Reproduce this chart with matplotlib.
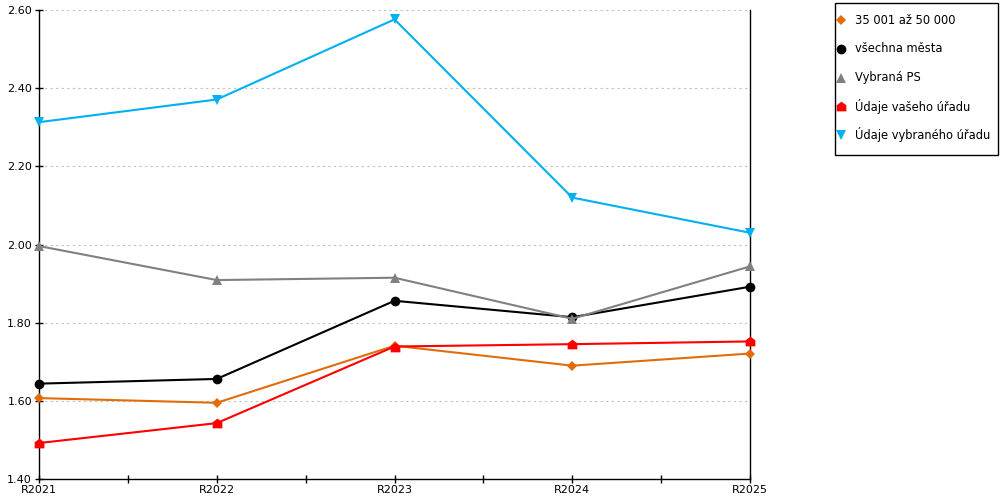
import matplotlib.pyplot as plt
from matplotlib.lines import Line2D
from matplotlib.patches import Rectangle
from matplotlib.path import Path
import numpy as np

years = ["R2021", "R2022", "R2023", "R2024", "R2025"]

mesta_35_50 = [1.607, 1.595, 1.741, 1.690, 1.721]
vsechna_mesta = [1.644, 1.656, 1.856, 1.814, 1.892]
vybrana_ps = [1.996, 1.909, 1.915, 1.810, 1.944]
vas_urad = [1.492, 1.543, 1.739, 1.745, 1.752]
vybrany_urad = [2.313, 2.371, 2.576, 2.120, 2.030]

labels = ["35 001 až 50 000", "všechna města", "Vybraná PS",
          "Údaje vašeho úřadu", "Údaje vybraného úřadu"]

# house shaped marker for the red series
house = Path([(-1, -1), (1, -1), (1, 0.25), (0, 1), (-1, 0.25), (-1, -1)],
             [Path.MOVETO, Path.LINETO, Path.LINETO, Path.LINETO, Path.LINETO, Path.CLOSEPOLY])

styles = [
    (mesta_35_50, "#E36C0A", "D", 5.5),
    (vsechna_mesta, "#000000", "o", 7),
    (vybrana_ps, "#808080", "^", 7.5),
    (vas_urad, "#FF0000", house, 7),
    (vybrany_urad, "#00B0F0", "v", 7.5),
]

plt.rcParams['font.family'] = ['DejaVu Sans']
plt.rcParams['font.size'] = 8

fig = plt.figure(figsize=(10, 5), dpi=100)
ax = fig.add_axes([0.039, 0.042, 0.711, 0.938])

x = np.arange(len(years))
for vals, col, mk, ms in styles:
    ax.plot(x, vals, color=col, lw=1.5, marker=mk, markersize=ms,
            markeredgewidth=0, zorder=3, clip_on=False)

ax.set_xlim(0, 4)
ax.set_ylim(1.4, 2.6)
ax.set_yticks(np.arange(1.4, 2.61, 0.2))
ax.set_yticklabels([f"{v:.2f}" for v in np.arange(1.4, 2.61, 0.2)])
ax.set_xticks(x)
ax.set_xticklabels(years)
ax.set_xticks(x[:-1] + 0.5, minor=True)

ax.yaxis.grid(True, linestyle=(0, (2, 3)), color="#c0c0c0", lw=0.8)
ax.set_axisbelow(True)

ax.spines["top"].set_visible(False)
for s in ["left", "bottom", "right"]:
    ax.spines[s].set_color("black")
    ax.spines[s].set_linewidth(1)

ax.tick_params(axis="y", direction="inout", length=6, width=1, pad=2)
ax.tick_params(axis="x", which="both", direction="inout", length=6, width=1, pad=1)

# legend box drawn by hand (pixel layout of the reference)
W, H = 1000, 500
fig.patches.append(Rectangle((835 / W, 1 - 155 / H), 163 / W, 152 / H,
                             transform=fig.transFigure, fill=False,
                             edgecolor="black", lw=1))
for i, ((vals, col, mk, ms), lab) in enumerate(zip(styles, labels)):
    py = 1 - (20 + i * 28.75) / H
    fig.lines.append(Line2D([841 / W], [py], transform=fig.transFigure,
                            color=col, marker=mk, markersize=ms,
                            markeredgewidth=0, linestyle="none"))
    fig.text(855 / W, py, lab, fontsize=8.3, va="center", ha="left")

fig.savefig("out.png", dpi=100)
